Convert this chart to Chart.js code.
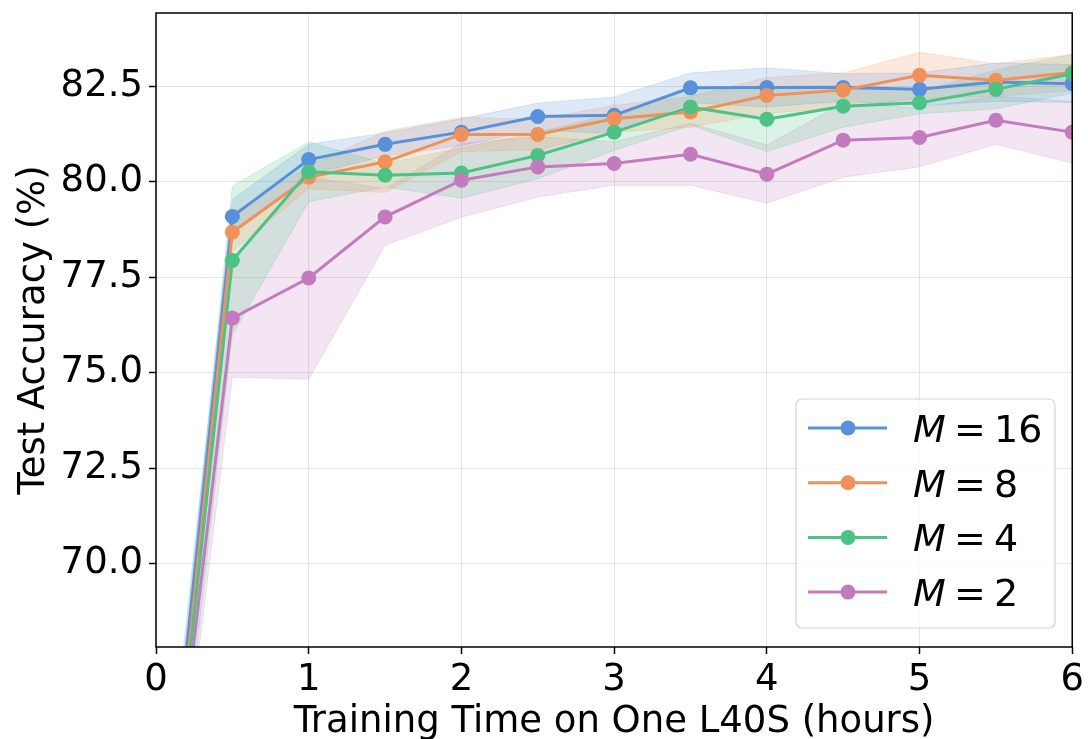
<!DOCTYPE html>
<html>
<head>
<meta charset="utf-8">
<script src="https://cdn.jsdelivr.net/npm/chart.js@4.4.1/dist/chart.umd.min.js"></script>
<style>
  html, body { margin: 0; padding: 0; background: #fff; }
  #wrap { width: 1088px; height: 739px; }
</style>
</head>
<body>
<div id="wrap"><canvas id="accChart"></canvas></div>
<script>
// training time (hours) on one L40S
const hours = [0, 0.5, 1, 1.5, 2, 2.5, 3, 3.5, 4, 4.5, 5, 5.5, 6];

// mean test accuracy (%) per M
const accM16 = [60.2, 79.09, 80.58, 80.98, 81.30, 81.71, 81.74, 82.46, 82.47, 82.47, 82.42, 82.61, 82.57];
const accM8  = [59.5, 78.68, 80.12, 80.52, 81.24, 81.24, 81.65, 81.83, 82.26, 82.40, 82.79, 82.66, 82.86];
const accM4  = [59.4, 77.94, 80.26, 80.17, 80.23, 80.69, 81.30, 81.96, 81.64, 81.98, 82.07, 82.42, 82.83];
const accM2  = [59.6, 76.43, 77.48, 79.08, 80.04, 80.39, 80.48, 80.72, 80.20, 81.09, 81.16, 81.61, 81.30];

// spread (shaded band half-width)
const stdM16 = [1.0, 0.45, 0.40, 0.30, 0.35, 0.35, 0.48, 0.39, 0.51, 0.36, 0.43, 0.50, 0.50];
const stdM8  = [1.0, 0.50, 0.30, 0.80, 0.45, 0.40, 0.35, 0.40, 0.47, 0.45, 0.60, 0.43, 0.47];
const stdM4  = [1.0, 1.95, 0.78, 0.31, 0.66, 0.61, 0.48, 0.48, 0.85, 0.55, 0.29, 0.51, 0.51];
const stdM2  = [1.0, 1.55, 2.65, 0.74, 0.97, 0.79, 0.57, 0.81, 0.76, 0.97, 0.77, 0.63, 0.81];

const seriesNames = ['16', '8', '4', '2'];
const yTicks = [70, 72.5, 75, 77.5, 80, 82.5];

const colors = ['#5990dc', '#f1915a', '#4cc284', '#c47bbd'];
const bandColors = [
  'rgba(89,144,220,0.2)', 'rgba(241,145,90,0.2)', 'rgba(76,194,132,0.2)', 'rgba(196,123,189,0.2)'
];

const FONT = '"DejaVu Sans", sans-serif';

const means = [accM16, accM8, accM4, accM2];
const stds = [stdM16, stdM8, stdM4, stdM2];

const toPts = (arr) => hours.map((h, i) => ({ x: h, y: arr[i] }));

const datasets = [];
means.forEach((m, i) => {
  const lo = m.map((v, j) => v - stds[i][j]);
  const hi = m.map((v, j) => v + stds[i][j]);
  datasets.push({
    label: 'band-lo-' + i,
    data: toPts(lo),
    borderColor: bandColors[i],
    borderWidth: 1,
    pointRadius: 0,
    fill: false,
    order: 20,
    clip: 0
  });
  datasets.push({
    label: 'band-hi-' + i,
    data: toPts(hi),
    borderColor: bandColors[i],
    backgroundColor: bandColors[i],
    borderWidth: 1,
    pointRadius: 0,
    fill: '-1',
    order: 20,
    clip: 0
  });
});
means.forEach((m, i) => {
  datasets.push({
    label: 'M = ' + seriesNames[i],
    data: toPts(m),
    borderColor: colors[i],
    backgroundColor: colors[i],
    borderWidth: 3,
    pointRadius: 7.5,
    pointBorderWidth: 0,
    pointHoverRadius: 7.5,
    fill: false,
    order: 4 - i,
    clip: 0,
    isMain: true
  });
});

// black box round the axes, like matplotlib spines
const framePlugin = {
  id: 'frame',
  afterDraw(chart) {
    const { ctx, chartArea: a } = chart;
    ctx.save();
    ctx.strokeStyle = '#000';
    ctx.lineWidth = 1.5;
    ctx.strokeRect(a.left, a.top, a.right - a.left, a.bottom - a.top);
    ctx.restore();
  }
};

// legend box in lower right
const legendPlugin = {
  id: 'boxLegend',
  afterDraw(chart) {
    const ctx = chart.ctx;
    const main = chart.data.datasets.filter(d => d.isMain);
    const bx = 796, by = 399, bw = 259, bh = 229, r = 6;
    ctx.save();
    ctx.beginPath();
    ctx.moveTo(bx + r, by);
    ctx.arcTo(bx + bw, by, bx + bw, by + bh, r);
    ctx.arcTo(bx + bw, by + bh, bx, by + bh, r);
    ctx.arcTo(bx, by + bh, bx, by, r);
    ctx.arcTo(bx, by, bx + bw, by, r);
    ctx.closePath();
    ctx.fillStyle = 'rgba(255,255,255,0.8)';
    ctx.fill();
    ctx.strokeStyle = '#d4d4d4';
    ctx.lineWidth = 1.2;
    ctx.stroke();

    main.forEach((d, i) => {
      const cy = 428 + i * 54.7;
      ctx.strokeStyle = d.borderColor;
      ctx.lineWidth = 3;
      ctx.beginPath();
      ctx.moveTo(808, cy);
      ctx.lineTo(887, cy);
      ctx.stroke();
      ctx.fillStyle = d.borderColor;
      ctx.beginPath();
      ctx.arc(848, cy, 7.5, 0, Math.PI * 2);
      ctx.fill();

      ctx.fillStyle = '#000';
      ctx.textBaseline = 'alphabetic';
      ctx.font = 'italic 38px ' + FONT;
      ctx.fillText('M', 913, cy + 14);
      ctx.font = '38px ' + FONT;
      ctx.fillText('=', 954, cy + 14);
      ctx.fillText(d.label.split('= ')[1], 994, cy + 14);
    });
    ctx.restore();
  }
};

new Chart(document.getElementById('accChart').getContext('2d'), {
  type: 'line',
  data: { datasets },
  plugins: [framePlugin, legendPlugin],
  options: {
    responsive: true,
    maintainAspectRatio: false,
    animation: false,
    events: [],
    layout: { padding: { top: 13, right: 15, left: 0, bottom: 0 } },
    plugins: {
      legend: { display: false },
      tooltip: { enabled: false },
      title: { display: false }
    },
    scales: {
      x: {
        type: 'linear',
        min: 0,
        max: 6,
        afterFit: (s) => { s.height = 92; },
        border: { display: false },
        grid: { color: '#e4e4e4', lineWidth: 1, tickColor: '#000', tickLength: 7, tickWidth: 1.5 },
        ticks: { stepSize: 1, color: '#000', padding: 4, font: { family: FONT, size: 37 } },
        title: {
          display: true,
          text: 'Training Time on One L40S (hours)',
          color: '#000',
          font: { family: FONT, size: 37, lineHeight: 0.9 },
          padding: { top: 0, bottom: 0 }
        }
      },
      y: {
        type: 'linear',
        min: 67.816,
        max: 84.42,
        afterFit: (s) => { s.width = 156; s.paddingTop = 0; s.paddingBottom = 0; },
        afterBuildTicks: (s) => { s.ticks = yTicks.map(v => ({ value: v })); },
        border: { display: false },
        grid: { color: '#e4e4e4', lineWidth: 1, tickColor: '#000', tickLength: 7, tickWidth: 1.5 },
        ticks: {
          color: '#000',
          padding: 6,
          font: { family: FONT, size: 37 },
          callback: (v) => Number(v).toFixed(1)
        },
        title: {
          display: true,
          text: 'Test Accuracy (%)',
          color: '#000',
          font: { family: FONT, size: 37 },
          padding: { top: 12, bottom: 0 }
        }
      }
    }
  }
});
</script>
</body>
</html>
